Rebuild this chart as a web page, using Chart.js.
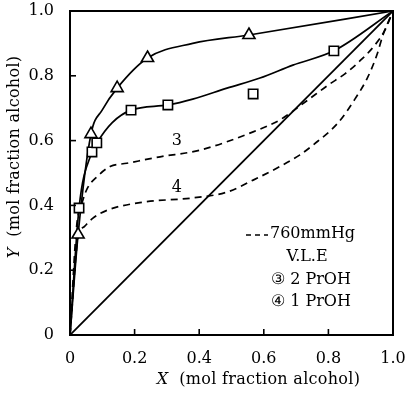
<!DOCTYPE html>
<html><head><meta charset="utf-8">
<script src="https://cdn.jsdelivr.net/npm/chart.js@4.4.0/dist/chart.umd.min.js"></script>
<style>html,body{margin:0;padding:0;background:#fff}</style>
</head><body>
<canvas id="c" width="410" height="400"></canvas>
<script>
const xTickLabels = ["0","0.2","0.4","0.6","0.8","1.0"];
const yTickLabels = ["0","0.2","0.4","0.6","0.8","1.0"];

const triX = [0.025,0.065,0.146,0.24,0.554];
const triY = [0.31,0.62,0.762,0.855,0.926];
const sqX = [0.028,0.068,0.083,0.189,0.303,0.567,0.817];
const sqY = [0.392,0.565,0.593,0.694,0.71,0.744,0.877];

const triCurveX = [0,0.025,0.065,0.1,0.146,0.24,0.38,0.554,1];
const triCurveY = [0,0.31,0.62,0.695,0.762,0.855,0.9,0.926,1];
const sqCurveX = [0,0.028,0.068,0.083,0.13,0.189,0.303,0.38,0.486,0.588,0.69,0.817,1];
const sqCurveY = [0,0.392,0.565,0.593,0.655,0.694,0.71,0.728,0.762,0.793,0.833,0.877,1];
const curve3X = [0,0.02,0.04,0.056,0.083,0.124,0.176,0.279,0.4,0.567,0.65,0.728,0.8,0.851,0.904,0.944,0.975,1];
const curve3Y = [0,0.33,0.417,0.457,0.488,0.52,0.53,0.55,0.57,0.627,0.664,0.719,0.772,0.806,0.852,0.895,0.941,1];
const curve4X = [0,0.025,0.045,0.07,0.115,0.226,0.38,0.486,0.567,0.65,0.712,0.752,0.83,0.882,0.919,0.95,0.969,1];
const curve4Y = [0,0.3,0.335,0.36,0.385,0.41,0.423,0.441,0.478,0.52,0.556,0.586,0.655,0.728,0.79,0.864,0.926,1];
const diagX = [0,1];
const diagY = [0,1];

const curveLabels = [{t:"3", x:0.331, y:0.6},{t:"4", x:0.331, y:0.455}];
const legendLines = ["760mmHg","V.L.E","\u2462 2 PrOH","\u2463 1 PrOH"];

const pts = (xs, ys) => xs.map((x,i)=>({x, y: ys[i]}));
const SERIF = "'DejaVu Serif', 'Liberation Serif', serif";

const decor = {
  id: 'decor',
  afterDraw(chart) {
    const {ctx, chartArea: a, scales: {x, y}} = chart;
    ctx.save();
    ctx.strokeStyle = '#000';
    ctx.lineWidth = 2;
    ctx.strokeRect(a.left, a.top, a.right - a.left, a.bottom - a.top);
    ctx.lineWidth = 1.6;
    [0.2,0.4,0.6,0.8].forEach(v => {
      const px = x.getPixelForValue(v);
      ctx.beginPath(); ctx.moveTo(px, a.bottom); ctx.lineTo(px, a.bottom - 6); ctx.stroke();
      const py = y.getPixelForValue(v);
      ctx.beginPath(); ctx.moveTo(a.left, py); ctx.lineTo(a.left + 6, py); ctx.stroke();
    });
    ctx.fillStyle = '#000';
    ctx.textBaseline = 'middle';
    ctx.font = "16px " + SERIF;
    ctx.textAlign = 'center';
    curveLabels.forEach(l => ctx.fillText(l.t, x.getPixelForValue(l.x), y.getPixelForValue(l.y)));
    // legend
    ctx.font = "16px " + SERIF;
    ctx.setLineDash([5,4]);
    ctx.lineWidth = 1.6;
    ctx.beginPath(); ctx.moveTo(246, 235); ctx.lineTo(268, 235); ctx.stroke();
    ctx.setLineDash([]);
    ctx.textAlign = 'left';
    ctx.fillText(legendLines[0], 270, 234);
    ctx.textAlign = 'center';
    ctx.fillText(legendLines[1], 307, 257);
    ctx.fillText(legendLines[2], 311, 280);
    ctx.fillText(legendLines[3], 311, 302);
    // axis titles
    try { ctx.letterSpacing = "0.3px"; } catch (e) {}
    const rest = "  (mol fraction alcohol)";
    ctx.font = "16px " + SERIF;
    const wRest = ctx.measureText(rest).width;
    ctx.font = "italic 16px " + SERIF;
    const wX = ctx.measureText("X").width;
    const cx = (a.left + a.right) / 2 + 27;
    let sx = cx - (wRest + wX) / 2;
    ctx.textAlign = 'left';
    ctx.fillText("X", sx, 380);
    ctx.font = "16px " + SERIF;
    ctx.fillText(rest, sx + wX, 380);
    ctx.translate(15, 157);
    ctx.rotate(-Math.PI / 2);
    ctx.font = "italic 16px " + SERIF;
    const wY = ctx.measureText("Y").width;
    let sy = -(wRest + wY) / 2;
    ctx.fillText("Y", sy, 0);
    ctx.font = "16px " + SERIF;
    ctx.fillText(rest, sy + wY, 0);
    ctx.restore();
  }
};

const lineDs = (xs, ys, dash) => ({
  type: 'line', data: pts(xs, ys), borderColor: '#000', borderWidth: 1.7,
  borderDash: dash || [], pointRadius: 0, fill: false, cubicInterpolationMode: 'monotone'
});

new Chart(document.getElementById('c'), {
  type: 'scatter',
  data: {
    datasets: [
      {data: pts(triX, triY), pointStyle: 'triangle', pointRadius: 7, pointBorderWidth: 1.6,
       pointBackgroundColor: '#fff', pointBorderColor: '#000', showLine: false},
      {data: pts(sqX, sqY), pointStyle: 'rect', pointRadius: 6.6, pointBorderWidth: 1.6,
       pointBackgroundColor: '#fff', pointBorderColor: '#000', showLine: false},
      lineDs(triCurveX, triCurveY),
      lineDs(sqCurveX, sqCurveY),
      lineDs(curve3X, curve3Y, [7,5]),
      lineDs(curve4X, curve4Y, [7,5]),
      {type: 'line', data: pts(diagX, diagY), borderColor: '#000', borderWidth: 1.8, pointRadius: 0, tension: 0}
    ]
  },
  options: {
    responsive: false,
    animation: false,
    events: [],
    layout: {padding: {left: 0, top: 11, right: 17, bottom: 0}},
    plugins: {legend: {display: false}, tooltip: {enabled: false}},
    scales: {
      x: {
        type: 'linear', min: 0, max: 1,
        grid: {display: false}, border: {display: false},
        ticks: {stepSize: 0.2, autoSkip: false, maxRotation: 0, padding: 6, color: '#000',
                font: {family: SERIF, size: 16}, callback: (v, i) => xTickLabels[i]},
        afterFit: s => { s.height = 65; s.paddingLeft = 0; s.paddingRight = 0; }
      },
      y: {
        type: 'linear', min: 0, max: 1,
        grid: {display: false}, border: {display: false},
        ticks: {stepSize: 0.2, autoSkip: false, padding: 8, color: '#000',
                font: {family: SERIF, size: 16}, callback: (v, i) => yTickLabels[i]},
        afterFit: s => { s.width = 70; s.paddingTop = 0; s.paddingBottom = 0; }
      }
    }
  },
  plugins: [decor]
});
</script>
</body></html>
